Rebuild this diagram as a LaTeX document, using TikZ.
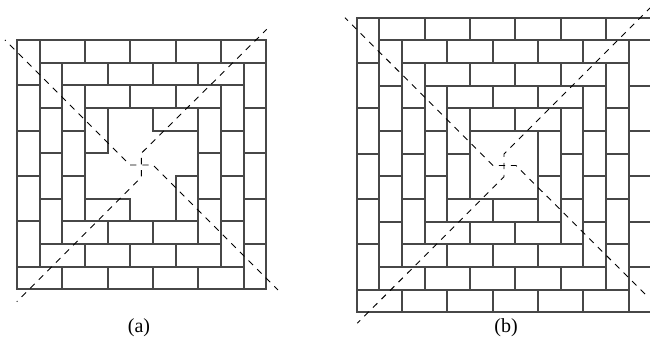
\documentclass[tikz,border=0pt]{standalone}
\usepackage{fontspec}
\setmainfont{Liberation Serif}
\tikzset{
  brick/.style={line width=2pt,black!72,line cap=rect},
  diagA/.style={line width=0.9pt,black,dash pattern=on 6.3pt off 5.85pt,dash phase=5.3pt},
  diagB/.style={line width=0.9pt,black,dash pattern=on 6.2pt off 5.86pt,dash phase=2pt},
  caption/.style={font=\fontsize{20}{22}\selectfont,anchor=base,inner sep=0pt}
}
% ring of bricks: offset #1, side #2
\newcommand{\brickring}[2]{%
  \pgfmathtruncatemacro{\ka}{#1+1}%
  \pgfmathtruncatemacro{\kn}{#1+#2}%
  \pgfmathtruncatemacro{\kb}{#1+#2-1}%
  \draw[brick] (\ka,#1)--(\ka,\kb) (\ka,\ka)--(\kn,\ka) (\kb,\ka)--(\kb,\kn) (#1,\kb)--(\kb,\kb);
  \pgfmathtruncatemacro{\nb}{#2-2}%
  \pgfmathtruncatemacro{\nc}{#2-3}%
  \foreach \i in {1,3,...,\nb}{\draw[brick] (#1+\i,#1)--(#1+\i,\ka);}
  \foreach \i in {2,4,...,\nc}{\draw[brick] (#1,#1+\i)--(\ka,#1+\i);
    \draw[brick] (#1+\i,\kb)--(#1+\i,\kn);}
  \foreach \i in {3,5,...,\nb}{\draw[brick] (\kb,#1+\i)--(\kn,#1+\i);}
}
\begin{document}
\begin{tikzpicture}[x=1pt,y=1pt]
\useasboundingbox (0,0) rectangle (650,344);
\clip (0,0) rectangle (650,344);
% panel (a)
\begin{scope}[shift={(17pt,304pt)},x=22.67pt,y=-22.67pt]
  \draw[brick] (0,0) rectangle (11,11);
  \brickring{0}{11}
  \brickring{1}{9}
  \brickring{2}{7}
  \draw[brick] (4,3)--(4,5)--(3,5);
  \draw[brick] (6,3)--(6,4)--(8,4);
  \draw[brick] (7,8)--(7,6)--(8,6);
  \draw[brick] (3,7)--(5,7)--(5,8);
\end{scope}
\coordinate (a1) at (5,304);
\coordinate (a2) at (130,179);
\coordinate (a3) at (153,179);
\coordinate (a4) at (278,54);
\coordinate (a5) at (16.7,42.3);
\coordinate (a6) at (141.3,166.7);
\coordinate (a7) at (141.3,190.7);
\coordinate (a8) at (266.7,314.7);
\draw[diagA] (a1)--(a2)--(a3)--(a4);
\draw[diagA] (a5)--(a6)--(a7)--(a8);
\node[caption] (capa) at (139,11) {(a)};
% panel (b)
\begin{scope}[shift={(356.7pt,326.3pt)},x=22.67pt,y=-22.67pt]
  \draw[brick] (0,0) rectangle (13,13);
  \brickring{0}{13}
  \brickring{1}{11}
  \brickring{2}{9}
  \brickring{3}{7}
  \brickring{4}{5}
\end{scope}
\coordinate (b1) at (345,326.3);
\coordinate (b2) at (493,178.5);
\coordinate (b3) at (516,178.5);
\coordinate (b4) at (646,49);
\coordinate (b5) at (357.3,20.7);
\coordinate (b6) at (504,167.3);
\coordinate (b7) at (504,190);
\coordinate (b8) at (650,336);
\draw[diagB] (b1)--(b2)--(b3)--(b4);
\draw[diagB] (b5)--(b6)--(b7)--(b8);
\node[caption] (capb) at (506,11) {(b)};
\end{tikzpicture}
\end{document}
